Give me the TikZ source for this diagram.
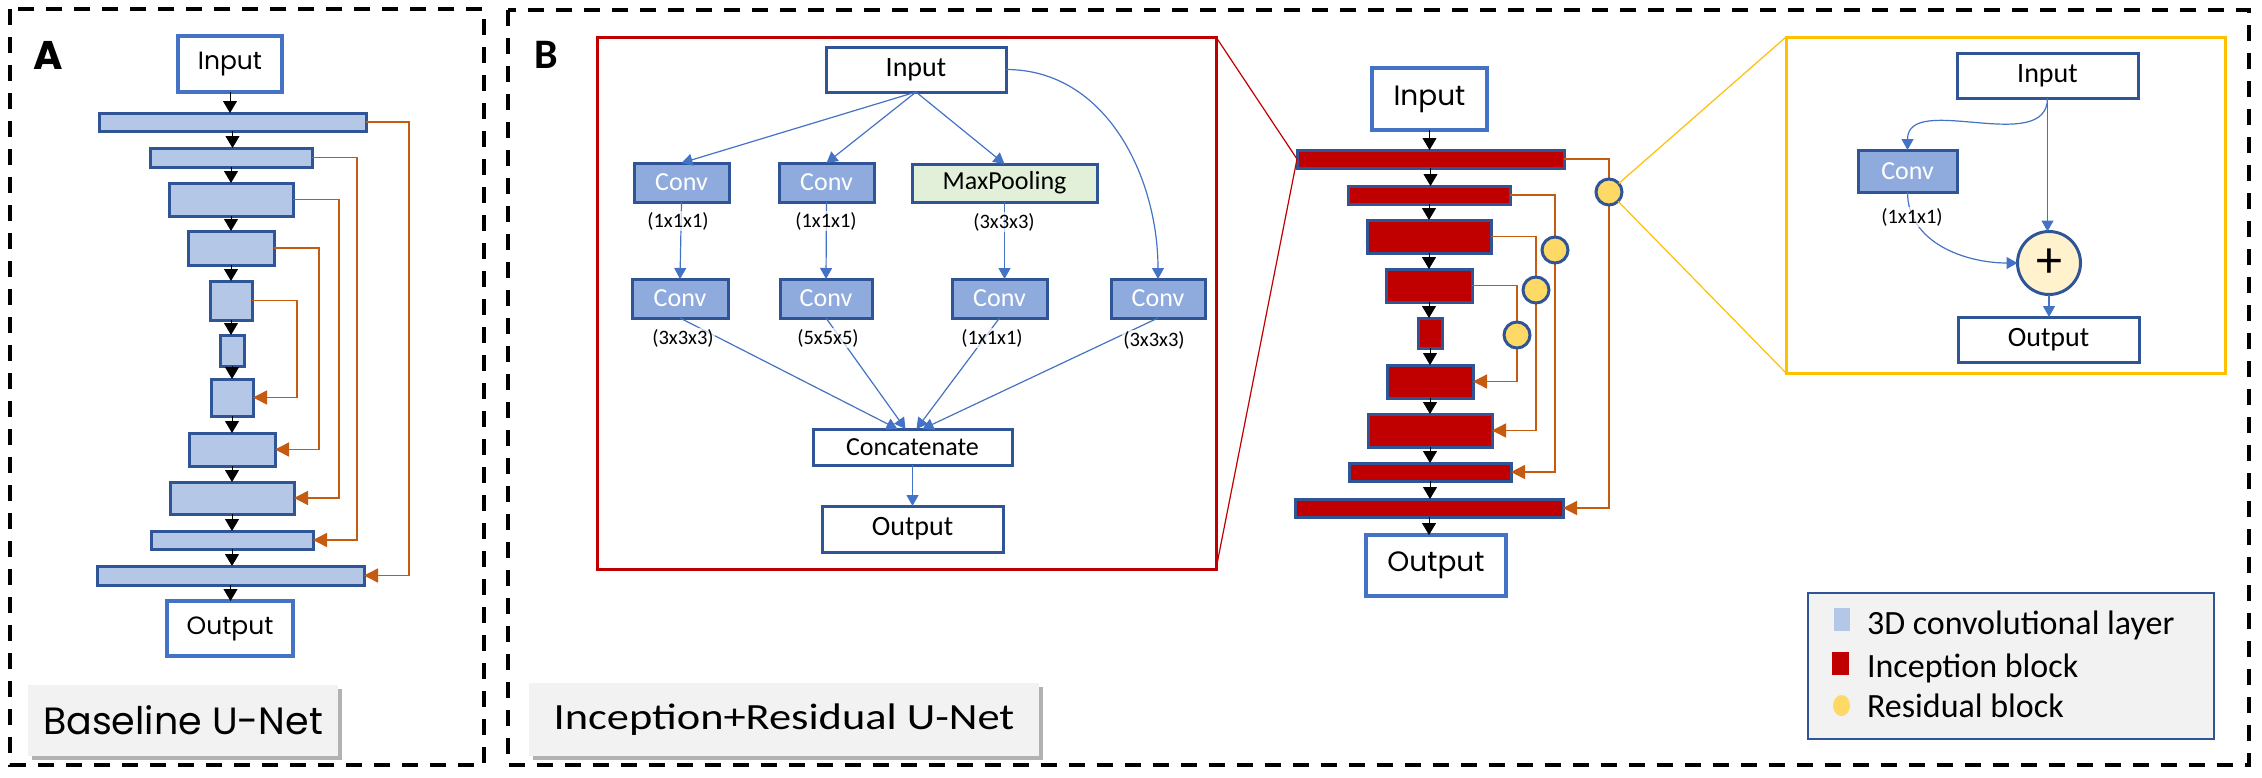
\documentclass[tikz,border=0pt]{standalone}
\usepackage{fontspec}
\setmainfont{Carlito}
\newfontfamily\gothic{Poppins}
\usetikzlibrary{arrows.meta,shadows,calc}
\definecolor{lblue}{HTML}{B4C7E7}
\definecolor{dblue}{HTML}{2F5597}
\definecolor{mblue}{HTML}{4472C4}
\definecolor{convfill}{HTML}{8FAADC}
\definecolor{incred}{HTML}{C00000}
\definecolor{skiporange}{HTML}{C55A11}
\definecolor{resyellow}{HTML}{FFD966}
\definecolor{ygold}{HTML}{FFC000}
\definecolor{plusfill}{HTML}{FFF2CC}
\definecolor{mpgreen}{HTML}{E2F0D9}
\definecolor{labelgray}{HTML}{F2F2F2}
\newcommand\fs[1]{\fontsize{#1}{#1}\selectfont}
\newcommand\mybox[7]{\node[#6, minimum width={(#4)-(#2)}, minimum height={(#5)-(#3)}] (#1) at ({((#2)+(#4))/2},{-((#3)+(#5))/2}) {#7};}
\begin{document}
\begin{tikzpicture}[x=1pt,y=1pt,
  every node/.style={inner sep=0pt, outer sep=0pt},
  panelborder/.style={draw=black, line width=4.5pt, dash pattern=on 16pt off 12pt},
  layer/.style={draw=dblue, fill=lblue, line width=3pt},
  incep/.style={draw=dblue, fill=incred, line width=3pt},
  ioA/.style={draw=mblue, fill=white, line width=4pt, font=\gothic\fs{25}},
  ioB/.style={draw=mblue, fill=white, line width=4pt, font=\gothic\fs{28}},
  plainbox/.style={draw=dblue, fill=white, line width=3pt, font=\fs{28}},
  catbox/.style={draw=dblue, fill=white, line width=3pt, font=\fs{26}},
  convbox/.style={draw=dblue, fill=convfill, line width=3pt, text=white, font=\fs{26}},
  poolbox/.style={draw=dblue, fill=mpgreen, line width=3pt, font=\fs{26}},
  resnode/.style={circle, draw=dblue, fill=resyellow, line width=3pt, minimum size=26pt},
  lbl/.style={font=\fs{20.5}, fill=white, fill opacity=0.7, text opacity=1, inner sep=1pt},
  blk/.style={draw=black, line width=1pt, -{Triangle[width=14pt,length=12pt]}},
  skiparrow/.style={draw=skiporange, line width=1.5pt, -{Triangle[width=14pt,length=14pt]}},
  blu/.style={draw=mblue, line width=1.2pt, -{Triangle[width=12pt,length=11pt]}},
  zoomred/.style={draw=incred, line width=1.2pt},
  zoomgold/.style={draw=ygold, line width=1.2pt},
  tagbox/.style={fill=labelgray, drop shadow={shadow xshift=4pt, shadow yshift=-4pt, fill=black, opacity=0.3}}
]
\useasboundingbox (0,0) rectangle (2262,-777);
% panel borders
\draw[panelborder] (10,-9) rectangle (484,-765);
\draw[panelborder] (508,-10) rectangle (2249,-765);

% ================= Panel A =================
\node[anchor=base west, font=\gothic\bfseries\fs{40}] (labelA) at (33,-69) {A};
\mybox{inA}{178}{36}{282}{92}{ioA}{Input}
\mybox{A1}{99}{113}{366}{131}{layer}{}
\mybox{A2}{150}{148}{312}{167}{layer}{}
\mybox{A3}{169}{183}{293}{216}{layer}{}
\mybox{A4}{188}{231}{274}{265}{layer}{}
\mybox{A5}{210}{281}{252}{320}{layer}{}
\mybox{A6}{220}{335}{244}{366}{layer}{}
\mybox{A7}{211}{379}{253}{416}{layer}{}
\mybox{A8}{189}{433}{275}{466}{layer}{}
\mybox{A9}{170}{482}{294}{514}{layer}{}
\mybox{A10}{151}{531}{313}{549}{layer}{}
\mybox{A11}{97}{566}{364}{585}{layer}{}
\mybox{outA}{167}{601}{293}{656}{ioA}{Output}
\foreach \a/\b in {inA/A1,A1/A2,A2/A3,A3/A4,A4/A5,A5/A6,A6/A7,A7/A8,A8/A9,A9/A10,A10/A11,A11/outA}
  \draw[blk] (\a.south) -- (\a.south |- \b.north);
\coordinate (sa1) at (409,0);
\coordinate (sa2) at (357,0);
\coordinate (sa3) at (339,0);
\coordinate (sa4) at (319,0);
\coordinate (sa5) at (297,0);
\draw[skiparrow] (A1.east) -- (A1.east -| sa1) |- (A11.east);
\draw[skiparrow] (A2.east) -- (A2.east -| sa2) |- (A10.east);
\draw[skiparrow] (A3.east) -- (A3.east -| sa3) |- (A9.east);
\draw[skiparrow] (A4.east) -- (A4.east -| sa4) |- (A8.east);
\draw[skiparrow] (A5.east) -- (A5.east -| sa5) |- (A7.east);
\mybox{tagA}{28}{685}{338}{756}{tagbox, font=\gothic\fs{38}}{Baseline U-Net}

% ================= Panel B =================
\node[anchor=base west, font=\bfseries\fs{42}] (labelB) at (534,-68) {B};

% --- inception block detail (red box)
\mybox{redbox}{597}{37}{1216}{569}{draw=incred, line width=3pt}{}
\mybox{inI}{826}{47}{1006}{92}{plainbox}{Input}
\mybox{c1}{634}{163}{729}{202}{convbox}{Conv}
\mybox{c2}{779}{163}{874}{202}{convbox}{Conv}
\mybox{mp}{912}{164}{1097}{202}{poolbox}{MaxPooling}
\mybox{c1b}{632}{279}{728}{318}{convbox}{Conv}
\mybox{c2b}{780}{279}{872}{318}{convbox}{Conv}
\mybox{c3b}{952}{279}{1047}{318}{convbox}{Conv}
\mybox{c4b}{1111}{279}{1205}{318}{convbox}{Conv}
\mybox{cat}{813}{429}{1012}{465}{catbox}{Concatenate}
\mybox{outI}{822}{506}{1003}{552}{plainbox}{Output}
\draw[blu] (inI.south) -- (c1.north);
\draw[blu] (inI.south) -- (c2.north);
\draw[blu] (inI.south) -- (mp.north);
\draw[blu] (inI.east) to[out=0,in=90] (c4b.north);
\draw[blu] (c1.south) -- (c1b.north);
\draw[blu] (c2.south) -- (c2b.north);
\draw[blu] (mp.south) -- (mp.south |- c3b.north);
\draw[blu] (c1b.south) -- ($(cat.north)+(-15,0)$);
\draw[blu] (c2b.south) -- ($(cat.north)+(-7,0)$);
\draw[blu] (c3b.south) -- ($(cat.north)+(4,0)$);
\draw[blu] (c4b.south) -- ($(cat.north)+(10,0)$);
\draw[blu] (cat.south) -- (outI.north);
\node[lbl] (l1) at (678,-221) {(1x1x1)};
\node[lbl] (l2) at (826,-221) {(1x1x1)};
\node[lbl] (l3) at (1004,-222) {(3x3x3)};
\node[lbl] (l4) at (683,-338) {(3x3x3)};
\node[lbl] (l5) at (828,-338) {(5x5x5)};
\node[lbl] (l6) at (992,-338) {(1x1x1)};
\node[lbl] (l7) at (1154,-340) {(3x3x3)};

% --- middle U-Net
\mybox{inB}{1372}{68}{1487}{130}{ioB}{Input}
\mybox{B1}{1297}{150}{1564}{168}{incep}{}
\mybox{B2}{1348}{186}{1510}{204}{incep}{}
\mybox{B3}{1367}{220}{1491}{253}{incep}{}
\mybox{B4}{1386}{269}{1472}{302}{incep}{}
\mybox{B5}{1418}{318}{1442}{348}{incep}{}
\mybox{B6}{1387}{365}{1473}{398}{incep}{}
\mybox{B7}{1368}{414}{1492}{447}{incep}{}
\mybox{B8}{1349}{463}{1511}{481}{incep}{}
\mybox{B9}{1295}{499}{1563}{517}{incep}{}
\mybox{outB}{1366}{535}{1506}{596}{ioB}{Output}
\foreach \a/\b in {inB/B1,B1/B2,B2/B3,B3/B4,B4/B5,B5/B6,B6/B7,B7/B8,B8/B9,B9/outB}
  \draw[blk] (\a.south) -- (\a.south |- \b.north);
\coordinate (sb1) at (1609,0);
\coordinate (sb2) at (1555,0);
\coordinate (sb3) at (1536,0);
\coordinate (sb4) at (1517,0);
\draw[skiparrow] (B1.east) -- (B1.east -| sb1) |- (B9.east);
\draw[skiparrow] (B2.east) -- (B2.east -| sb2) |- (B8.east);
\draw[skiparrow] (B3.east) -- (B3.east -| sb3) |- (B7.east);
\draw[skiparrow] (B4.east) -- (B4.east -| sb4) |- (B6.east);
\node[resnode] (R1) at (1609,-192) {};
\node[resnode] (R2) at (1555,-250) {};
\node[resnode] (R3) at (1536,-290) {};
\node[resnode] (R4) at (1517,-335) {};
% zoom lines
\draw[zoomred] (redbox.north east) -- (B1.west);
\draw[zoomred] (redbox.south east) -- (B1.west);

% --- residual block detail (gold box)
\mybox{ybox}{1786}{37}{2225}{373}{draw=ygold, line width=3pt}{}
\draw[zoomgold] (R1) -- (ybox.north west);
\draw[zoomgold] (R1) -- (ybox.south west);
\mybox{yin}{1957}{53}{2138}{98}{plainbox}{Input}
\mybox{yconv}{1858}{150}{1957}{192}{convbox}{Conv}
\node[circle, draw=dblue, fill=plusfill, line width=3pt, minimum size=63pt, font=\fs{52}] (plus) at (2049,-263) {+};
\mybox{yout}{1958}{317}{2139}{362}{plainbox}{Output}
\draw[blu] (yin.south) to[out=-90,in=90] (yconv.north);
\draw[blu] (yin.south) -- (yin.south |- plus.north);
\draw[blu] (yconv.south) to[out=-90,in=180] (plus.west);
\draw[blu] (plus.south) -- (plus.south |- yout.north);
\node[lbl] (yl) at (1912,-217) {(1x1x1)};

% --- legend
\mybox{legend}{1808}{593}{2214}{739}{draw=dblue, fill=labelgray, line width=2.5pt}{}
\fill[lblue] (1834,-608) rectangle (1850,-631);
\fill[incred] (1832,-652) rectangle (1849,-675);
\fill[resyellow] (1841.5,-705.5) ellipse [x radius=8.5, y radius=10.5];
\node[anchor=base west, font=\fs{34}] (lg1) at (1867,-634) {3D convolutional layer};
\node[anchor=base west, font=\fs{34}] (lg2) at (1867,-677) {Inception block};
\node[anchor=base west, font=\fs{34}] (lg3) at (1867,-717) {Residual block};

% --- panel tag
\mybox{tagB}{529}{683}{1039}{756}{tagbox, font=\fs{37}}{\scalebox{1.2}[1]{Inception+Residual U-Net}}
\end{tikzpicture}
\end{document}
